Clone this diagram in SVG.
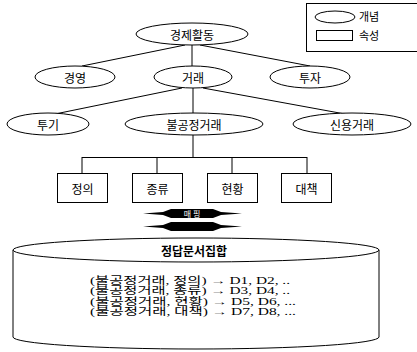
<svg xmlns="http://www.w3.org/2000/svg" width="417" height="352" viewBox="0 0 417 352">
<style>
.n{fill:#fff;stroke:#000;stroke-width:1}
.e{fill:none;stroke:#000;stroke-width:1}
.t{font-family:"Noto Sans CJK KR","Liberation Sans",sans-serif;font-size:12px;fill:#000;text-anchor:middle;dominant-baseline:central}
.d{font-family:"Liberation Serif","Noto Sans CJK KR",serif;font-size:10px;fill:#000}
</style>
<rect width="417" height="352" fill="#fff"/>
<g id="legend">
<rect class="n" x="306.5" y="3.5" width="112" height="48"/>
<ellipse class="n" cx="335" cy="17" rx="20" ry="6"/>
<text class="t" x="369" y="16" style="font-size:11px">개념</text>
<rect class="n" x="316.5" y="30.5" width="36" height="10"/>
<text class="t" x="369" y="35" style="font-size:11px">속성</text>
</g>
<g id="connectors">
<line class="e" x1="185" y1="45" x2="82" y2="66"/>
<line class="e" x1="192" y1="44" x2="192" y2="66"/>
<line class="e" x1="200" y1="45" x2="310" y2="66"/>
<line class="e" x1="182" y1="88" x2="55" y2="114"/>
<line class="e" x1="193" y1="88" x2="193" y2="113"/>
<line class="e" x1="203" y1="88" x2="345" y2="114"/>
<line class="e" x1="193" y1="135" x2="193" y2="157"/>
<line class="e" x1="82" y1="157.5" x2="307" y2="157.5"/>
<line class="e" x1="82" y1="157" x2="82" y2="173"/>
<line class="e" x1="157" y1="157" x2="157" y2="173"/>
<line class="e" x1="232" y1="157" x2="232" y2="173"/>
<line class="e" x1="307" y1="157" x2="307" y2="173"/>
</g>
<g id="n-root"><ellipse class="n" cx="192" cy="34" rx="56" ry="11"/><text class="t" x="192" y="34">경제활동</text></g>
<g id="n-gy"><ellipse class="n" cx="75" cy="77" rx="40" ry="11"/><text class="t" x="75" y="77">경영</text></g>
<g id="n-gr"><ellipse class="n" cx="193" cy="77" rx="39" ry="11"/><text class="t" x="193" y="77">거래</text></g>
<g id="n-tj"><ellipse class="n" cx="310" cy="77" rx="40" ry="11"/><text class="t" x="310" y="77">투자</text></g>
<g id="n-tg"><ellipse class="n" cx="48" cy="124" rx="41" ry="11"/><text class="t" x="48" y="124">투기</text></g>
<g id="n-bg"><ellipse class="n" cx="194" cy="124" rx="69" ry="11"/><text class="t" x="194" y="124">불공정거래</text></g>
<g id="n-sy"><ellipse class="n" cx="352" cy="124" rx="59" ry="11"/><text class="t" x="352" y="124">신용거래</text></g>
<g id="a-def"><rect class="n" x="57.5" y="173.5" width="50" height="29"/><text class="t" x="82.5" y="188">정의</text></g>
<g id="a-kind"><rect class="n" x="132.5" y="173.5" width="50" height="29"/><text class="t" x="157.5" y="188">종류</text></g>
<g id="a-stat"><rect class="n" x="207.5" y="173.5" width="50" height="29"/><text class="t" x="232.5" y="188">현황</text></g>
<g id="a-plan"><rect class="n" x="281.5" y="173.5" width="50" height="29"/><text class="t" x="306.5" y="188">대책</text></g>
<g id="mapping">
<polygon fill="#000" points="143,213.5 163,212 171,209 213,209 221,212 242,213.5 221,215 213,218 171,218 163,215"/>
<text x="192" y="213.5" fill="#fff" style="font-family:'Noto Sans CJK KR',sans-serif;font-size:8px;text-anchor:middle;dominant-baseline:central">매 핑</text>
<polygon fill="#000" points="143,226.5 163,225 171,222 213,222 221,225 242,226.5 221,228 213,231 171,231 163,228"/>
</g>
<g id="answer-docs">
<path class="n" d="M13,250 L13,337 A183,12 0 0 0 379,337 L379,250"/>
<ellipse class="n" cx="196" cy="250" rx="183" ry="12"/>
<text class="t" x="194" y="250" style="font-weight:bold">정답문서집합</text>
<text class="d" x="90" y="283.5" textLength="200" lengthAdjust="spacingAndGlyphs">(불공정거래, 정의) → D1, D2, ..</text>
<text class="d" x="90" y="294" textLength="200" lengthAdjust="spacingAndGlyphs">(불공정거래, 종류) → D3, D4, ..</text>
<text class="d" x="90" y="304.5" textLength="206" lengthAdjust="spacingAndGlyphs">(불공정거래, 현황) → D5, D6, ...</text>
<text class="d" x="90" y="315" textLength="206" lengthAdjust="spacingAndGlyphs">(불공정거래, 대책) → D7, D8, ...</text>
</g>
</svg>
